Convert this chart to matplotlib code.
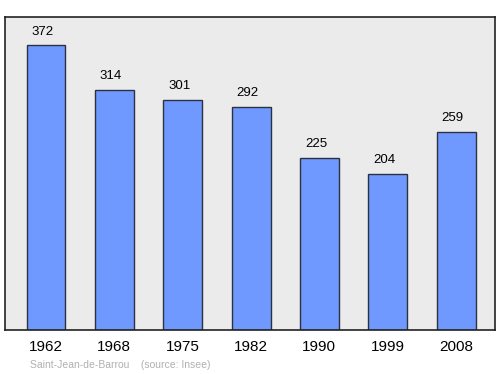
import matplotlib
matplotlib.use("Agg")
from matplotlib import pyplot as plt

years = ['1962', '1968', '1975', '1982', '1990', '1999', '2008']
population = [372, 314, 301, 292, 225, 204, 259]
commune = 'Saint-Jean-de-Barrou'
source = '(source: Insee)'

fig = plt.figure(figsize=(5.0, 3.74), dpi=100)
ax = fig.add_axes([5/500, 1 - 330/374, 490/500, 313/374])
ax.set_facecolor('#ebebeb')

xs = range(len(years))
ax.bar(xs, population, width=0.57, color='#7099ff', edgecolor='#2b3140', linewidth=1.0)
# value labels sit a touch left of the bar centre, like the original
for x, v in zip(xs, population):
    ax.annotate(str(v), (x, v), xytext=(-2.5, 5.5), textcoords='offset points',
                ha='center', va='bottom', fontsize=9.5, family='Liberation Sans')

ax.set_xlim(-0.6, 6.57)
ax.set_ylim(0, 409)
ax.set_yticks([])
ax.set_xticks(list(xs))
ax.set_xticklabels(years, fontsize=11, family='Liberation Sans')
ax.tick_params(axis='x', length=0, pad=7)
for s in ax.spines.values():
    s.set_color('#222222')
    s.set_linewidth(1.2)

fig.text(30/500, 1 - 365/374, commune + '    ' + source, fontsize=7.5,
         color='#b0b0b0', va='center', family='Liberation Sans')

fig.savefig('out.png', dpi=100)
